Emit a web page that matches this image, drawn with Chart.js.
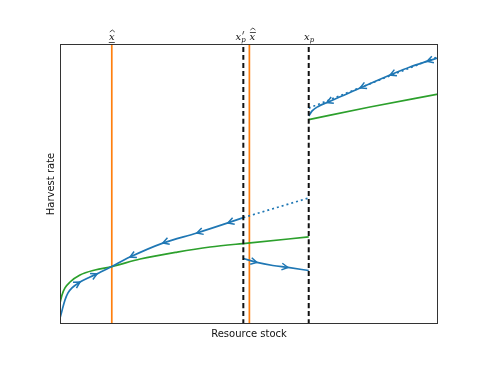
<!DOCTYPE html>
<html>
<head>
<meta charset="utf-8">
<script src="https://cdn.jsdelivr.net/npm/chart.js@4"></script>
<style>
  body { margin: 0; background: #fff; }
</style>
</head>
<body>
<canvas id="chart" width="487" height="365"></canvas>
<script>
// marked stock levels (axis runs 0..100)
const levelNames = ['xlow', 'xprime', 'xbar', 'xp'];
const levelX = [13.7, 48.5, 50.1, 65.8];

// growth curve, below and above x_p
const growthLowX = [0, 0.53, 1.32, 2.65, 5.29, 9.26, 13.7, 21.2, 31.0, 39.7, 49.7, 65.8];
const growthLowY = [7.5, 10.4, 12.9, 15.0, 17.5, 19.3, 20.5, 23.2, 25.7, 27.5, 28.9, 31.1];
const growthHighX = [65.8, 82.0, 100];
const growthHighY = [73.0, 77.5, 82.1];

// harvest paths
const pathUpX = [0, 0.45, 1.32, 2.12, 3.17, 5.29, 7.94, 9.79, 13.7];
const pathUpY = [2.1, 4.4, 8.6, 11.1, 12.9, 15.0, 16.8, 17.9, 20.5];
const pathBackX = [13.7, 18.5, 27.2, 36.2, 44.4, 48.5];
const pathBackY = [20.5, 23.9, 28.9, 32.5, 36.1, 38.0];
const pathMidX = [48.5, 52.1, 56.3, 60.3, 65.8];
const pathMidY = [23.4, 22.0, 20.9, 20.2, 19.1];
const pathTopX = [65.8, 66.7, 68.3, 70.6, 74.6, 79.4, 83.3, 87.3, 92.6, 97.1, 99.9];
const pathTopY = [74.3, 76.1, 77.7, 79.1, 81.4, 84.3, 86.6, 88.9, 91.8, 93.8, 95.0];
const dottedLowX = [48.5, 65.8];
const dottedLowY = [38.0, 45.0];
const dottedTopX = [65.8, 99.9];
const dottedTopY = [77.1, 95.4];

const blue = '#1f77b4', green = '#2ca02c', orange = '#ff7f0e';

function pts(xs, ys) {
  return xs.map((x, i) => ({ x: x, y: ys[i] }));
}
function vline(x) {
  return [{ x: x, y: 0 }, { x: x, y: 100 }];
}

const datasets = [
  { data: vline(levelX[1]), borderColor: '#111', borderWidth: 2, borderDash: [5, 3] },
  { data: vline(levelX[3]), borderColor: '#111', borderWidth: 2, borderDash: [5, 3] },
  { data: pts(pathUpX, pathUpY), borderColor: blue, arrowAt: [5, 7], arrowDir: 1 },
  { data: pts(pathBackX, pathBackY), borderColor: blue, arrowAt: [1, 2, 3, 4], arrowDir: -1 },
  { data: pts(pathMidX, pathMidY), borderColor: blue, arrowAt: [1, 3], arrowDir: 1 },
  { data: pts(pathTopX, pathTopY), borderColor: blue, arrowAt: [3, 5, 7, 9], arrowDir: -1 },
  { data: pts(dottedLowX, dottedLowY), borderColor: blue, borderDash: [2, 3] },
  { data: pts(dottedTopX, dottedTopY), borderColor: blue, borderDash: [2, 3] },
  { data: pts(growthLowX, growthLowY), borderColor: green },
  { data: pts(growthHighX, growthHighY), borderColor: green },
  { data: vline(levelX[0]), borderColor: orange },
  { data: vline(levelX[2]), borderColor: orange }
];
datasets.forEach(d => {
  d.showLine = true;
  d.pointRadius = 0;
  d.borderWidth = d.borderWidth || 1.7;
  d.cubicInterpolationMode = 'monotone';
  d.fill = false;
});

// open arrow heads along the paths
const arrowPlugin = {
  id: 'arrows',
  afterDatasetsDraw(chart) {
    const ctx = chart.ctx;
    chart.data.datasets.forEach((ds, di) => {
      if (!ds.arrowAt) return;
      const pts = chart.getDatasetMeta(di).data;
      ds.arrowAt.forEach(i => {
        const a = pts[i - 1], b = pts[i + 1], p = pts[i];
        let ang = Math.atan2(b.y - a.y, b.x - a.x);
        if (ds.arrowDir < 0) ang += Math.PI;
        const len = 7, spread = 0.5;
        ctx.save();
        ctx.strokeStyle = ds.borderColor;
        ctx.lineWidth = 1.5;
        ctx.beginPath();
        ctx.moveTo(p.x - len * Math.cos(ang - spread), p.y - len * Math.sin(ang - spread));
        ctx.lineTo(p.x, p.y);
        ctx.lineTo(p.x - len * Math.cos(ang + spread), p.y - len * Math.sin(ang + spread));
        ctx.stroke();
        ctx.restore();
      });
    });
  }
};

function hat(ctx, cx, y) {
  ctx.beginPath();
  ctx.moveTo(cx - 2, y + 2);
  ctx.lineTo(cx + 0.5, y);
  ctx.lineTo(cx + 3, y + 2);
  ctx.stroke();
}

// frame, axis titles and the level labels on top
const labelPlugin = {
  id: 'labels',
  afterDraw(chart) {
    const ctx = chart.ctx;
    const area = chart.chartArea;
    const sx = chart.scales.x;
    ctx.save();
    ctx.strokeStyle = '#333';
    ctx.lineWidth = 1;
    ctx.strokeRect(area.left + 0.5, area.top + 0.5, area.right - area.left - 1, area.bottom - area.top - 1);

    ctx.fillStyle = '#111';
    ctx.font = '10px "DejaVu Sans"';
    ctx.textAlign = 'center';
    ctx.textBaseline = 'middle';
    ctx.fillText('Resource stock', (area.left + area.right) / 2, 334);
    ctx.save();
    ctx.translate(51, (area.top + area.bottom) / 2);
    ctx.rotate(-Math.PI / 2);
    ctx.fillText('Harvest rate', 0, 0);
    ctx.restore();

    const base = 40;
    const mainFont = 'italic 10px "DejaVu Serif"';
    const subFont = 'italic 7px "DejaVu Serif"';
    ctx.textBaseline = 'alphabetic';
    ctx.strokeStyle = '#222';
    ctx.lineWidth = 0.8;

    // x with hat and underline
    let cx = sx.getPixelForValue(levelX[0]);
    ctx.font = mainFont;
    ctx.fillText('x', cx, base);
    hat(ctx, cx, base - 10);
    ctx.beginPath(); ctx.moveTo(cx - 3, base + 2.5); ctx.lineTo(cx + 3, base + 2.5); ctx.stroke();

    // x'_p
    cx = sx.getPixelForValue(levelX[1]) - 5;
    ctx.fillText('x', cx, base);
    ctx.beginPath(); ctx.moveTo(cx + 5.5, base - 9); ctx.lineTo(cx + 4.3, base - 5.5); ctx.stroke();
    ctx.font = subFont;
    ctx.textAlign = 'left';
    ctx.fillText('p', cx + 3, base + 2);

    // x with bar and hat
    cx = sx.getPixelForValue(levelX[2]) + 3;
    ctx.textAlign = 'center';
    ctx.font = mainFont;
    ctx.fillText('x', cx, base);
    ctx.beginPath(); ctx.moveTo(cx - 2.5, base - 7.5); ctx.lineTo(cx + 3.5, base - 7.5); ctx.stroke();
    hat(ctx, cx, base - 12);

    // x_p
    cx = sx.getPixelForValue(levelX[3]);
    ctx.fillText('x', cx - 2, base);
    ctx.font = subFont;
    ctx.textAlign = 'left';
    ctx.fillText('p', cx + 1, base + 2);
    ctx.restore();
  }
};

new Chart(document.getElementById('chart'), {
  type: 'scatter',
  data: { datasets: datasets },
  options: {
    responsive: false,
    animation: false,
    events: [],
    layout: { padding: { top: 44, right: 49, left: 0, bottom: 0 } },
    plugins: { legend: { display: false }, tooltip: { enabled: false } },
    scales: {
      x: {
        min: 0, max: 100,
        ticks: { display: false },
        grid: { display: false },
        border: { display: false },
        afterFit: s => { s.height = 41; }
      },
      y: {
        min: 0, max: 100,
        ticks: { display: false },
        grid: { display: false },
        border: { display: false },
        afterFit: s => { s.width = 60; }
      }
    }
  },
  plugins: [arrowPlugin, labelPlugin]
});
</script>
</body>
</html>
